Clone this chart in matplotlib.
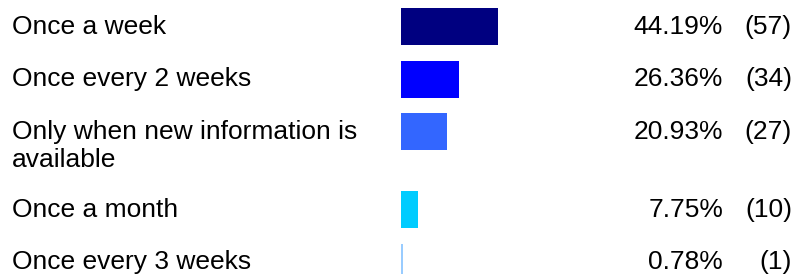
import matplotlib
matplotlib.use('Agg')
import matplotlib.pyplot as plt
import matplotlib.transforms as mtransforms

# survey answers
labels = ['Once a week', 'Once every 2 weeks',
          'Only when new information is\navailable',
          'Once a month', 'Once every 3 weeks']
percents = [44.19, 26.36, 20.93, 7.75, 0.78]
counts = [57, 34, 27, 10, 1]
colors = ['#000080', '#0000FF', '#3366FF', '#00CCFF', '#99CCFF']

W, H = 797, 274
plt.rcParams['font.family'] = ['Liberation Sans', 'DejaVu Sans']

fig = plt.figure(figsize=(W / 100, H / 100), dpi=100)
fig.patch.set_facecolor('white')

# bar area : 0..100 % maps onto 401..620 px
px_per_pct = 2.195
ax = fig.add_axes([401 / W, 0, 100 * px_per_pct / W, 1])
ax.set_xlim(0, 100)
ax.set_ylim(H, 0)   # y in pixels from the top
ax.axis('off')

# row centres, wrapped labels push the next rows down
row_step = 52.5
line_step = 25.5
centers = []
y = 26.5
for lab in labels:
    centers.append(y)
    y += row_step + line_step * lab.count('\n')

ax.barh(centers, percents, height=37, left=0, color=colors, clip_on=True)

fs = 19
base = 7.3   # baseline below the bar centre
trans = mtransforms.blended_transform_factory(fig.transFigure, ax.transData)
for lab, p, c, yc in zip(labels, percents, counts, centers):
    # one text per line so the first line sits level with the bar
    for i, part in enumerate(lab.split('\n')):
        ax.text(12 / W, yc + base + 28 * i, part, transform=trans,
                ha='left', va='baseline', fontsize=fs, color='#000000')
    ax.text(723 / W, yc + base, '%.2f%%' % p, transform=trans, ha='right',
            va='baseline', fontsize=fs, color='#000000')
    ax.text(792 / W, yc + base, '(%d)' % c, transform=trans, ha='right',
            va='baseline', fontsize=fs, color='#000000')

fig.savefig('out.png', dpi=100)
